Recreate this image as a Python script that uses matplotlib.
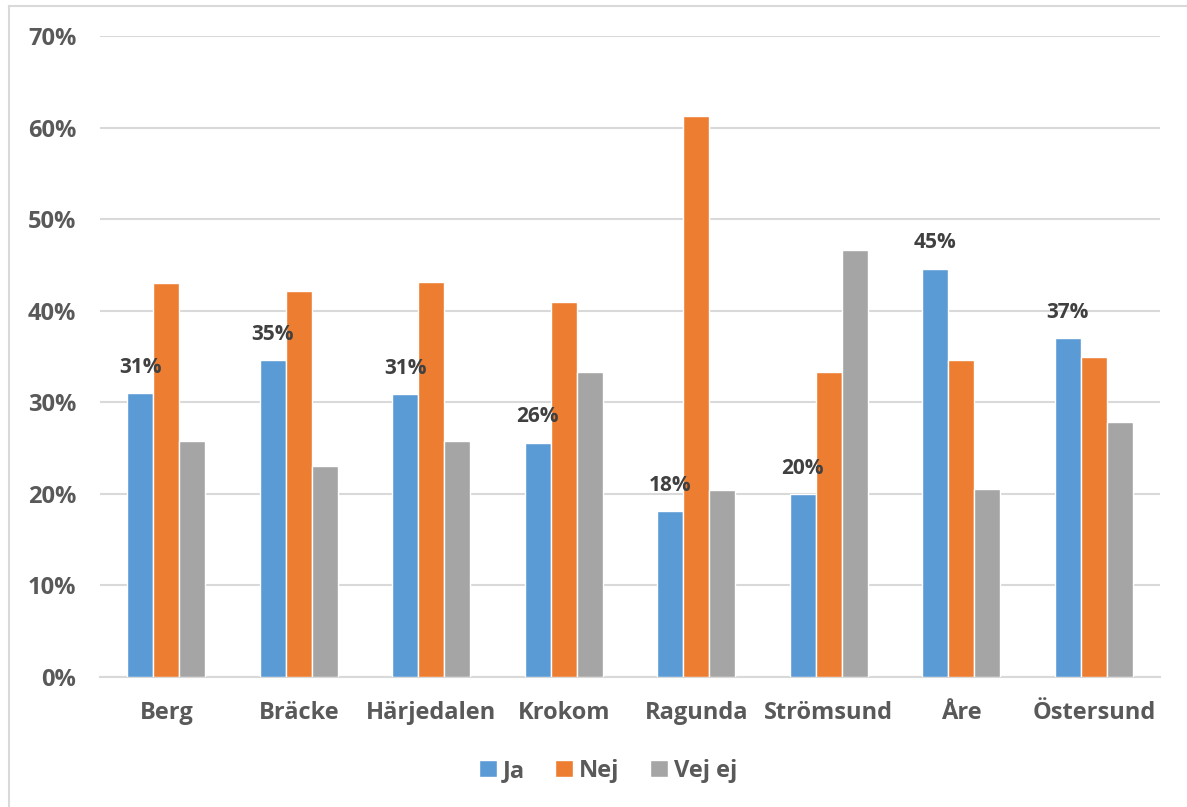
import numpy as np
import matplotlib.pyplot as plt
from matplotlib.lines import Line2D

kommuner = ["Berg", "Bräcke", "Härjedalen", "Krokom", "Ragunda", "Strömsund", "Åre", "Östersund"]
ja = [31.0, 34.6, 30.9, 25.6, 18.1, 20.0, 44.6, 37.0]
nej = [43.0, 42.2, 43.1, 40.9, 61.3, 33.3, 34.6, 34.9]
vej_ej = [25.8, 23.0, 25.8, 33.3, 20.4, 46.6, 20.5, 27.9]
ja_labels = ["31%", "35%", "31%", "26%", "18%", "20%", "45%", "37%"]
yticks = [0, 10, 20, 30, 40, 50, 60, 70]

plt.rcParams['font.family'] = ['Open Sans', 'DejaVu Sans']

fig = plt.figure(figsize=(11.87, 8.07), dpi=100)
ax = fig.add_axes([100 / 1187, 130 / 807, 1060 / 1187, 641 / 807])

x = np.arange(len(kommuner))
w = 0.196
series = [(ja, "#5b9bd5", "Ja"), (nej, "#ed7d31", "Nej"), (vej_ej, "#a5a5a5", "Vej ej")]
for i, (vals, col, name) in enumerate(series):
    ax.bar(x + (i - 1) * w, vals, width=w, color=col, edgecolor="white", linewidth=1, label=name, zorder=3)

for xi, v, lab in zip(x - w, ja, ja_labels):
    ax.annotate(lab, (xi, v), xytext=(0, 11), textcoords="offset points", ha="center", va="bottom",
                fontsize=15, fontweight="bold", color="#404040")

ax.set_xlim(-0.5, len(kommuner) - 0.5)
ax.set_ylim(0, 70)
ax.set_yticks(yticks)
ax.set_yticklabels([f"{t}%" for t in yticks])
ax.set_xticks(x)
ax.set_xticklabels(kommuner)
ax.tick_params(length=0, labelsize=17, labelcolor="#595959")
ax.tick_params(axis="y", pad=17)
ax.tick_params(axis="x", pad=17)
for lab in ax.get_xticklabels() + ax.get_yticklabels():
    lab.set_fontweight("bold")
ax.grid(axis="y", color="#d9d9d9", linewidth=1.5, zorder=0)
for s in ["top", "right", "left"]:
    ax.spines[s].set_visible(False)
ax.spines["bottom"].set_color("#d9d9d9")
ax.spines["bottom"].set_linewidth(1.5)

leg = ax.legend(loc="center", bbox_to_anchor=(608 / 1187, (807 - 771) / 807), bbox_transform=fig.transFigure,
                ncol=3, frameon=False, handlelength=0.75, handleheight=0.75, handletextpad=0.25,
                columnspacing=1.3, prop={"size": 17, "weight": "bold"})
for t in leg.get_texts():
    t.set_color("#595959")

# outer chart border
fig.add_artist(Line2D([9 / 1187, 9 / 1187], [0, 1 - 6 / 807], transform=fig.transFigure, color="#d9d9d9", linewidth=1.5))
fig.add_artist(Line2D([9 / 1187, 1], [1 - 6 / 807, 1 - 6 / 807], transform=fig.transFigure, color="#d9d9d9", linewidth=1.5))

plt.savefig("out.png", dpi=100)
